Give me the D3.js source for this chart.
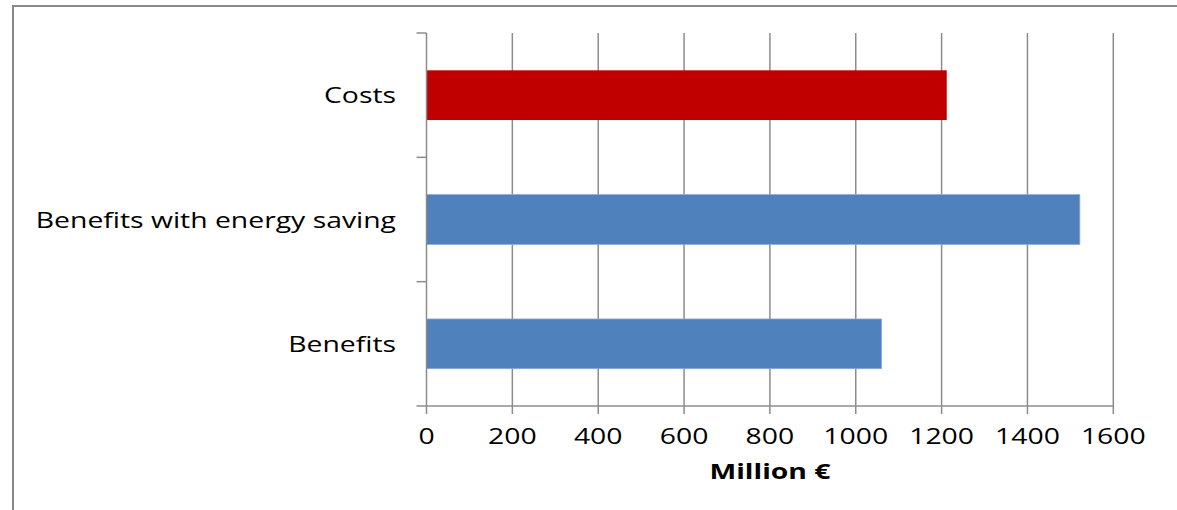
<!DOCTYPE html>
<html><head><meta charset="utf-8">
<script src="https://cdn.jsdelivr.net/npm/d3@7"></script>
<style>body{margin:0;background:#fff}svg{display:block}</style>
</head><body>
<script>
const categories = ["Costs", "Benefits with energy saving", "Benefits"];
const values = [1212, 1522, 1060];
const colors = ["#C00000", "#4F81BD", "#4F81BD"];
const xTicks = [0, 200, 400, 600, 800, 1000, 1200, 1400, 1600];
const xTitle = "Million €";

const W = 1177, H = 510;
const svg = d3.select("body").append("svg").attr("width", W).attr("height", H);
const font = "'Open Sans', sans-serif";
const SX = 1.35;

// frame
svg.append("path").attr("d", `M13,${H} L13,6 L${W},6`).attr("fill","none").attr("stroke","#898989").attr("stroke-width",2);

const L = 426.5, R = 1113.3, T = 33, B = 406;
const x = d3.scaleLinear().domain([0, 1600]).range([L, R]);
const y = d3.scaleBand().domain(categories).range([T, B]).paddingInner(0.6).paddingOuter(0.3);
const yb = d3.scaleBand().domain(categories).range([T, B]);

const gridCol = "#8c8c8c";
svg.append("g").selectAll("line").data(xTicks.slice(1)).join("line")
  .attr("x1", d => x(d)).attr("x2", d => x(d)).attr("y1", T).attr("y2", B + 8)
  .attr("stroke", gridCol).attr("stroke-width", 1.5);

svg.append("g").selectAll("rect").data(categories).join("rect")
  .attr("x", x(0)).attr("y", d => y(d)).attr("width", (d,i) => x(values[i]) - x(0))
  .attr("height", y.bandwidth()).attr("fill", (d,i) => colors[i])
  .attr("stroke", (d,i) => i ? "#8aaad4" : "none").attr("stroke-width", 0.8);

svg.append("line").attr("x1", L).attr("x2", L).attr("y1", T).attr("y2", B + 8)
  .attr("stroke", gridCol).attr("stroke-width", 1.5);
const bounds = categories.map(c => yb(c)).concat([B]);
svg.append("g").selectAll("line").data(bounds).join("line")
  .attr("x1", L - 10).attr("x2", L).attr("y1", d => d).attr("y2", d => d)
  .attr("stroke", gridCol).attr("stroke-width", 1.5);
svg.append("line").attr("x1", L).attr("x2", R).attr("y1", B).attr("y2", B)
  .attr("stroke", gridCol).attr("stroke-width", 1.5);

svg.append("g").selectAll("text").data(xTicks).join("text")
  .attr("transform", d => `translate(${x(d)},444) scale(${SX},1)`).attr("text-anchor", "middle")
  .attr("font-family", font).attr("font-size", 21).attr("fill", "#000").text(d => d);

svg.append("g").selectAll("text").data(categories).join("text")
  .attr("transform", d => `translate(396,${y(d) + y.bandwidth()/2 + 8}) scale(${SX},1)`).attr("text-anchor", "end")
  .attr("font-family", font).attr("font-size", 21).attr("fill", "#000").text(d => d);

svg.append("text").attr("transform", `translate(770,479) scale(${SX},1)`).attr("text-anchor", "middle")
  .attr("font-family", font).attr("font-size", 21).attr("font-weight", "bold").text(xTitle);
</script>
</body></html>
